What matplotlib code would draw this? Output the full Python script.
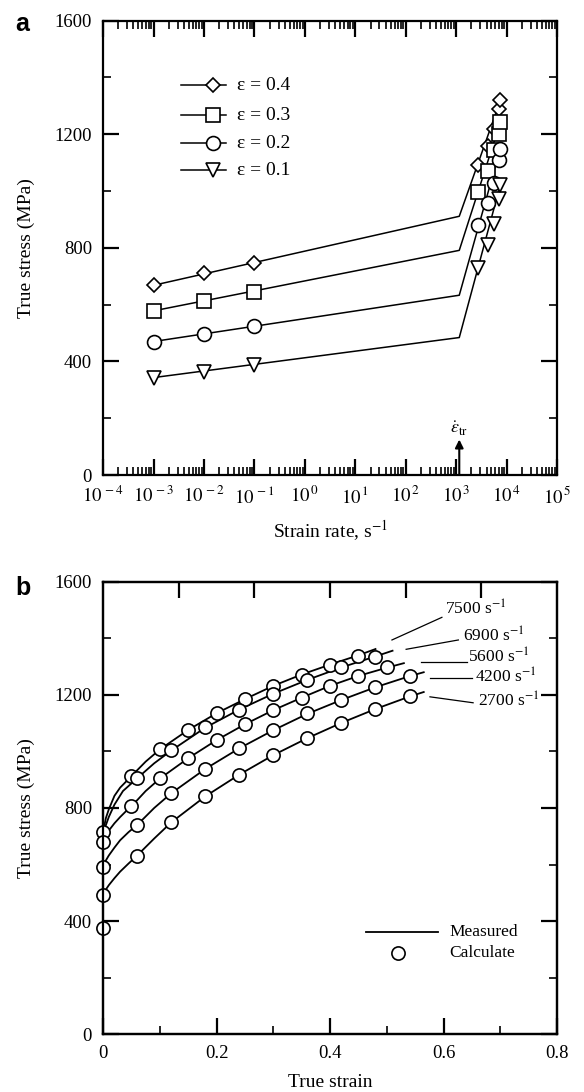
import numpy as np
import matplotlib
matplotlib.use('Agg')
import matplotlib.pyplot as plt
from matplotlib.ticker import FixedLocator, NullFormatter, FuncFormatter, MultipleLocator

plt.rcParams['font.family'] = ['Liberation Serif', 'DejaVu Serif']
plt.rcParams['mathtext.fontset'] = 'stix'

# ---------------- Panel a data ----------------
low_rates = [1e-3, 1e-2, 1e-1]
high_rates = [2700, 4200, 5600, 6900, 7500]
eps_labels = ['ε = 0.4', 'ε = 0.3', 'ε = 0.2', 'ε = 0.1']
eps04_low = [668, 710, 746]
eps03_low = [578, 612, 645]
eps02_low = [470, 498, 525]
eps01_low = [343, 363, 387]
eps04_high = [1093, 1157, 1220, 1287, 1319]
eps03_high = [997, 1072, 1143, 1202, 1242]
eps02_high = [879, 957, 1028, 1108, 1149]
eps01_high = [729, 809, 883, 973, 1022]
fit_rates = [1e-3, 1.15e3, 7.5e3]
eps04_fit = [668, 911, 1319]
eps03_fit = [578, 791, 1242]
eps02_fit = [470, 633, 1150]
eps01_fit = [343, 484, 1022]
transition_rate = 1.15e3

# ---------------- Panel b data ----------------
rate_labels = ['7500 s$^{-1}$', '6900 s$^{-1}$', '5600 s$^{-1}$', '4200 s$^{-1}$', '2700 s$^{-1}$']
calc_strain_05 = [0, 0.05, 0.10, 0.15, 0.20, 0.25, 0.30, 0.35, 0.40, 0.45, 0.50]
calc_strain_06 = [0, 0.06, 0.12, 0.18, 0.24, 0.30, 0.36, 0.42, 0.48, 0.54]
calc_7500 = [716, 914, 1008, 1076, 1135, 1185, 1233, 1271, 1306, 1339]
calc_6900 = [681, 905, 1004, 1085, 1147, 1204, 1253, 1298, 1335]
calc_5600 = [592, 806, 905, 976, 1041, 1096, 1147, 1188, 1233, 1267, 1300]
calc_4200 = [492, 739, 853, 938, 1012, 1076, 1135, 1182, 1229, 1267]
calc_2700 = [376, 629, 749, 841, 918, 988, 1047, 1102, 1151, 1196]

m7500_strain = [0, 0.005, 0.01, 0.02, 0.03, 0.05, 0.075, 0.10, 0.15, 0.20, 0.25, 0.30, 0.35, 0.40, 0.45, 0.48]
m7500 = [716, 765, 795, 843, 872, 913, 964, 1007, 1076, 1135, 1185, 1232, 1272, 1307, 1340, 1362]
m6900_strain = [0, 0.005, 0.01, 0.02, 0.035, 0.06, 0.09, 0.12, 0.18, 0.24, 0.30, 0.36, 0.42, 0.48, 0.51]
m6900 = [705, 740, 768, 812, 860, 905, 958, 1003, 1084, 1148, 1204, 1253, 1297, 1336, 1356]
m5600_strain = [0, 0.005, 0.01, 0.02, 0.03, 0.04, 0.05, 0.075, 0.10, 0.15, 0.20, 0.25, 0.30, 0.35, 0.40, 0.45, 0.50, 0.53]
m5600 = [684, 703, 720, 746, 768, 788, 806, 860, 904, 976, 1040, 1096, 1146, 1190, 1232, 1267, 1296, 1312]
m4200_strain = [0, 0.005, 0.01, 0.02, 0.03, 0.045, 0.06, 0.09, 0.12, 0.18, 0.24, 0.30, 0.36, 0.42, 0.48, 0.54, 0.565]
m4200 = [594, 615, 632, 660, 686, 715, 740, 800, 852, 938, 1011, 1075, 1133, 1182, 1227, 1266, 1280]
m2700_strain = [0, 0.005, 0.01, 0.02, 0.03, 0.045, 0.06, 0.09, 0.12, 0.18, 0.24, 0.30, 0.36, 0.42, 0.48, 0.54, 0.565]
m2700 = [494, 512, 527, 552, 575, 604, 632, 692, 749, 841, 918, 987, 1047, 1101, 1150, 1194, 1210]

W, H = 584, 1092
fig = plt.figure(figsize=(W / 100, H / 100), dpi=100)

def frac_box(l, r, t, b):
    return [l / W, 1 - b / H, (r - l) / W, (b - t) / H]

axa = fig.add_axes(frac_box(103.1, 557.1, 20.6, 475.0))
axb = fig.add_axes(frac_box(103.1, 557.1, 581.7, 1034.3))

TICK_FS = 13.5
LAB_FS = 14
SPINE_LW = 1.6

def style_axes(ax):
    for s in ax.spines.values():
        s.set_linewidth(SPINE_LW)
    ax.tick_params(which='major', direction='in', length=11.5, width=1.6,
                   labelsize=TICK_FS, pad=8)
    ax.tick_params(which='minor', direction='in', length=5.8, width=1.2)

# ---------------- Panel a ----------------
ax = axa
ax.set_xscale('log')
ax.set_xlim(1e-4, 1e5)
ax.set_ylim(0, 1600)
style_axes(ax)
ax.tick_params(which='both', top=True, right=True)
ax.xaxis.set_major_locator(FixedLocator([10.0 ** k for k in range(-4, 6)]))
ax.xaxis.set_minor_locator(FixedLocator([m * 10.0 ** k for k in range(-4, 5) for m in range(2, 10)]))
ax.xaxis.set_major_formatter(FuncFormatter(lambda v, p: r'$10^{\,%d}$' % int(round(np.log10(v)))))
ax.xaxis.set_minor_formatter(NullFormatter())
ax.yaxis.set_major_locator(MultipleLocator(400))
ax.yaxis.set_minor_locator(MultipleLocator(200))

mk = dict(markerfacecolor='white', markeredgecolor='black', markeredgewidth=1.2,
          linestyle='none', zorder=3, clip_on=False)
series_a = [
    (eps04_fit, eps04_low, eps04_high, 'D', 7.2),
    (eps03_fit, eps03_low, eps03_high, 's', 10),
    (eps02_fit, eps02_low, eps02_high, 'o', 10),
    (eps01_fit, eps01_low, eps01_high, 'v', 10),
]
for fit, lo, hi, m, ms in series_a:
    ax.plot(fit_rates, fit, color='black', lw=1.1, zorder=2)
    ax.plot(low_rates, lo, marker=m, markersize=ms, **mk)
    ax.plot(high_rates, hi, marker=m, markersize=ms, **mk)

# legend (manual)
leg_y = [0.858, 0.792, 0.730, 0.671]
for (fit, lo, hi, m, ms), yy, lab in zip(series_a, leg_y, eps_labels):
    ax.plot([0.172, 0.271], [yy, yy], transform=ax.transAxes, color='black', lw=1.1)
    ax.plot([0.241], [yy], transform=ax.transAxes, marker=m, markersize=ms, **mk)
    ax.text(0.294, yy, lab, transform=ax.transAxes, fontsize=LAB_FS, ha='left', va='center')

# transition arrow
ax.annotate('', xy=(transition_rate, 125), xytext=(transition_rate, 0),
            arrowprops=dict(arrowstyle='-|>', color='black', lw=1.5,
                            mutation_scale=12, shrinkA=0, shrinkB=0))
ax.text(transition_rate, 162, r'$\dot{\varepsilon}_{\rm tr}$', fontsize=13,
        ha='center', va='center')

ax.set_xlabel('Strain rate, s$^{-1}$', fontsize=LAB_FS)
ax.set_ylabel('True stress (MPa)', fontsize=LAB_FS)
ax.xaxis.set_label_coords(0.5, -0.095)
ax.yaxis.set_label_coords(-0.149, 0.5)

# ---------------- Panel b ----------------
ax = axb
ax.set_xlim(0, 0.8)
ax.set_ylim(0, 1600)
style_axes(ax)
ax.tick_params(which='both', top=False, right=True)
ax.xaxis.set_major_locator(MultipleLocator(0.2))
ax.xaxis.set_minor_locator(MultipleLocator(0.1))
ax.xaxis.set_major_formatter(FuncFormatter(lambda v, p: '0' if abs(v) < 1e-9 else ('%.1f' % v)))
ax.yaxis.set_major_locator(MultipleLocator(400))
ax.yaxis.set_minor_locator(MultipleLocator(200))

axt = ax.twiny()
axt.set_xlim(0, 0.8)
axt.set_xticks([0.8 * k / 6 for k in range(1, 6)])
axt.set_xticklabels([])
axt.tick_params(direction='in', length=11.5, width=1.6)
for s in axt.spines.values():
    s.set_linewidth(SPINE_LW)

meas = [(m7500_strain, m7500), (m6900_strain, m6900), (m5600_strain, m5600),
        (m4200_strain, m4200), (m2700_strain, m2700)]
calc = [(calc_strain_05, calc_7500), (calc_strain_06, calc_6900), (calc_strain_05, calc_5600),
        (calc_strain_06, calc_4200), (calc_strain_06, calc_2700)]
for (xs, ys) in meas:
    ax.plot(xs, ys, color='black', lw=1.3, zorder=2)
for (xs, ys) in calc:
    ax.plot(xs[:len(ys)], ys, marker='o', markersize=9.5, **mk)

# rate labels with leader lines: (line start, line end, text position)
leaders = [
    ((0.509, 1394), (0.597, 1474), (0.603, 1504)),
    ((0.534, 1361), (0.626, 1394), (0.635, 1408)),
    ((0.560, 1315), (0.641, 1315), (0.643, 1333)),
    ((0.576, 1261), (0.650, 1261), (0.655, 1264)),
    ((0.576, 1193), (0.652, 1172), (0.661, 1176)),
]
for (p0, p1, pt), lab in zip(leaders, rate_labels):
    ax.plot([p0[0], p1[0]], [p0[1], p1[1]], color='black', lw=0.9)
    ax.text(pt[0], pt[1], lab, fontsize=12.5, ha='left', va='center')

# legend (manual)
ax.plot([0.463, 0.590], [360, 360], color='black', lw=1.3)
ax.plot([0.520], [288], marker='o', markersize=9.5, **mk)
ax.text(0.610, 360, 'Measured', fontsize=12.5, ha='left', va='center')
ax.text(0.610, 288, 'Calculate', fontsize=12.5, ha='left', va='center')

ax.set_xlabel('True strain', fontsize=LAB_FS)
ax.set_ylabel('True stress (MPa)', fontsize=LAB_FS)
ax.xaxis.set_label_coords(0.5, -0.088)
ax.yaxis.set_label_coords(-0.149, 0.5)

# panel letters
fig.text(15 / W, 1 - 31 / H, 'a', fontsize=18, fontweight='bold',
         family='Liberation Sans', ha='left', va='baseline')
fig.text(15 / W, 1 - 595 / H, 'b', fontsize=18, fontweight='bold',
         family='Liberation Sans', ha='left', va='baseline')

fig.savefig('out.png', dpi=100)
